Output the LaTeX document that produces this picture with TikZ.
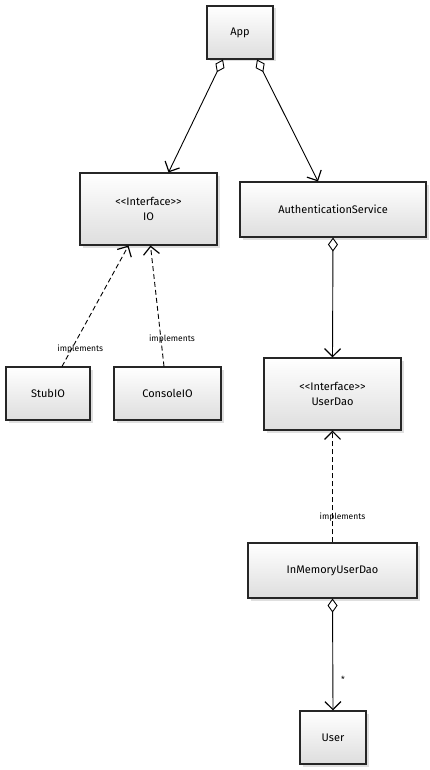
\documentclass[tikz,border=0pt]{standalone}
\usepackage{fontspec}
\setmainfont{Fira Sans}
\usetikzlibrary{arrows.meta,shadows,calc}
\newcommand{\stereo}[1]{\textless\kern0pt\textless\kern0pt #1\kern0pt\textgreater\kern0pt\textgreater}
\tikzset{
  cls/.style={draw=black!85, line width=1.1pt, top color=white, bottom color=black!13,
    drop shadow={shadow xshift=2.5pt, shadow yshift=-2.5pt, opacity=0.25},
    align=center, font=\fontsize{11}{15}\selectfont, inner sep=0pt},
  headtip/.tip={Straight Barb[length=8pt,width=16pt,line width=1.2pt]},
  agg/.style={line width=0.9pt, {Diamond[open,length=14pt,width=10pt]}-headtip},
  impl/.style={line width=0.9pt, dash pattern=on 5pt off 3pt, -headtip},
  lbl/.style={font=\fontsize{8.5}{10}\selectfont, inner sep=0pt}
}
\begin{document}
\begin{tikzpicture}[x=1pt,y=-1pt]
\useasboundingbox (0,0) rectangle (430,770);
\node[cls, minimum width=66pt, minimum height=53pt] (App) at (240,32.5) {App};
\node[cls, minimum width=137pt, minimum height=72pt] (IO) at (148.5,209) {\stereo{Interface}\\IO};
\node[cls, minimum width=186pt, minimum height=55pt] (Auth) at (333,209.5) {AuthenticationService};
\node[cls, minimum width=84pt, minimum height=53pt] (StubIO) at (48,393.5) {StubIO};
\node[cls, minimum width=107pt, minimum height=53pt] (ConsoleIO) at (167.5,393.5) {ConsoleIO};
\node[cls, minimum width=137pt, minimum height=72pt] (UserDao) at (332.5,394) {\stereo{Interface}\\UserDao};
\node[cls, minimum width=169pt, minimum height=55pt] (InMem) at (332.5,570.5) {InMemoryUserDao};
\node[cls, minimum width=66pt, minimum height=53pt] (User) at (333,737.5) {User};

\draw[agg] ($(App.south)+(-17,0)$) -- ($(IO.north)+(20,0)$);
\draw[agg] ($(App.south)+(17,0)$) -- ($(Auth.north)+(-15,0)$);
\draw[agg] (Auth.south) -- (UserDao.north);
\draw[impl] ($(StubIO.north)+(14,0)$) -- ($(IO.south)+(-20,0)$)
  node[lbl, pos=0.14, xshift=9pt] {implements};
\draw[impl] ($(ConsoleIO.north)+(-3.5,0)$) -- ($(IO.south)+(2,0)$)
  node[lbl, pos=0.225, xshift=11pt] {implements};
\draw[impl] (InMem.north) -- (UserDao.south)
  node[lbl, pos=0.225, xshift=10pt] {implements};
\draw[agg] (InMem.south) -- (User.north)
  node[lbl, pos=0.72, xshift=10pt] {*};
\end{tikzpicture}
\end{document}
